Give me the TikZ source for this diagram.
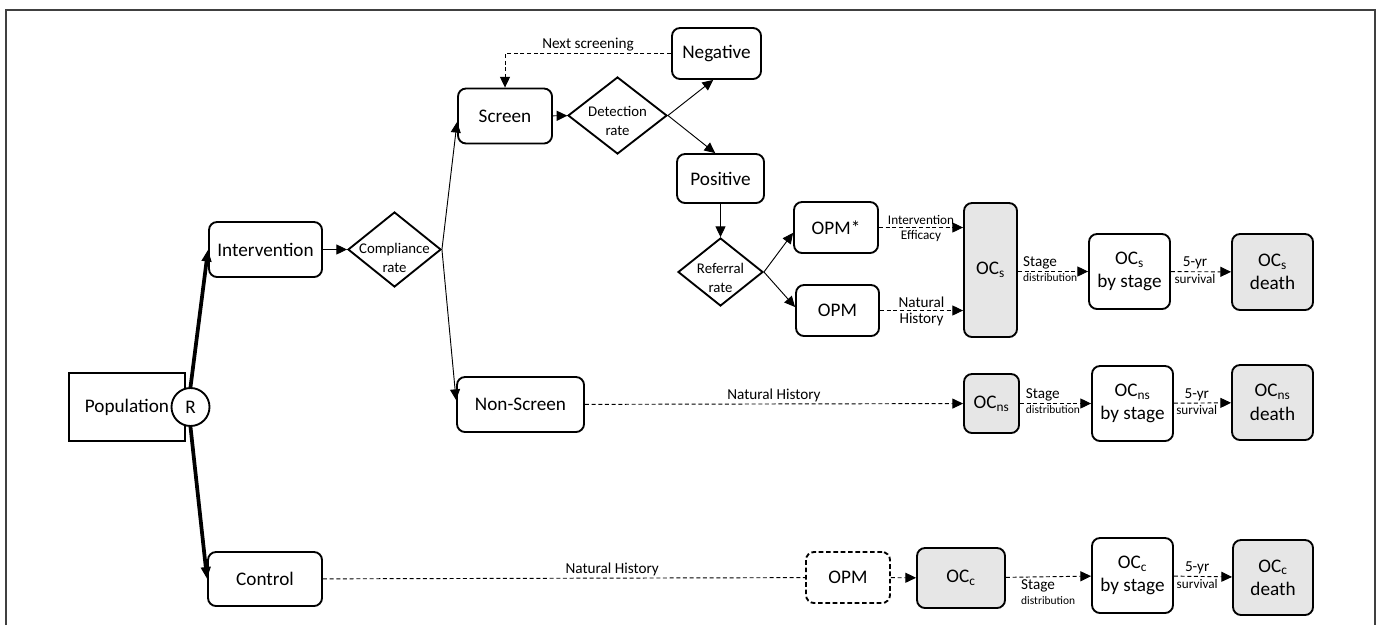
\documentclass[tikz,border=0pt]{standalone}
\usepackage{fontspec}
\setmainfont{Carlito}
\usetikzlibrary{arrows.meta,shapes.geometric}
\definecolor{boxgray}{RGB}{230,230,230}
\newcommand\fmain{\fontsize{14.4}{17.5}\selectfont}
\newcommand\fdia{\fontsize{11.1}{14}\selectfont}
\newcommand\flab{\fontsize{11.4}{13}\selectfont}
\newcommand\fsm{\fontsize{9.9}{11}\selectfont}
\newcommand\ftny{\fontsize{8.6}{10}\selectfont}
\tikzset{
  box/.style={draw, line width=1.4pt, rounded corners=6pt, fill=white, align=center, font=\fmain, inner sep=0pt},
  gbox/.style={box, fill=boxgray},
  dia/.style={draw, shape=diamond, line width=1.4pt, inner sep=0pt, fill=white},
  diatext/.style={font=\fdia, align=center, inner sep=0pt},
  arr/.style={-{Triangle[length=8pt,width=7.5pt]}, line width=0.7pt},
  darr/.style={arr, dash pattern=on 3pt off 2pt},
  dline/.style={line width=0.7pt, dash pattern=on 3pt off 2pt},
  thk/.style={-{Triangle[length=9pt,width=7pt]}, line width=2.8pt},
  lab/.style={font=\flab, inner sep=1.5pt},
  sml/.style={font=\fsm, inner sep=1.5pt},
  tny/.style={font=\ftny, inner sep=1.5pt},
}
\begin{document}
\begin{tikzpicture}[x=0.75pt,y=-0.75pt]
\useasboundingbox (0,0) rectangle (1381,625);
\draw[line width=1.2pt, draw=black!75] (6,625) -- (6,10) -- (1375,10) -- (1375,625);

% left part
\node[box, sharp corners, minimum width=87pt, minimum height=51pt] (pop) at (127,407) {Population};
\node[draw, circle, line width=1.4pt, fill=white, minimum size=28.5pt, inner sep=0pt, font=\fmain] (R) at (190.5,407) {R};
\node[box, minimum width=84.75pt, minimum height=41.25pt] (intv) at (265.5,249.5) {Intervention};
\node[box, minimum width=85.5pt, minimum height=40.5pt] (ctrl) at (265,579) {Control};
\node[dia, minimum width=69.75pt, minimum height=56.25pt] (comp) at (394.5,249.5) {};
\node[diatext] (compt) at (394.5,258) {Compliance\\rate};

% screening branch
\node[box, minimum width=70.5pt, minimum height=41.25pt] (scr) at (505,116) {Screen};
\node[dia, minimum width=74.25pt, minimum height=57.75pt] (det) at (617.5,115.5) {};
\node[diatext] (dett) at (617.5,121) {Detection\\rate};
\node[box, minimum width=66.75pt, minimum height=38.25pt] (neg) at (716.5,53.5) {Negative};
\node[box, minimum width=65.25pt, minimum height=36.75pt] (pos) at (720.5,178.5) {Positive};
\node[dia, minimum width=63.75pt, minimum height=51pt] (ref) at (720.5,272) {};
\node[diatext] (reft) at (720.5,278) {Referral\\rate};
\node[box, minimum width=63pt, minimum height=38.25pt] (opms) at (836,227.5) {OPM*};
\node[box, minimum width=62.25pt, minimum height=38.25pt] (opm) at (837.5,310.5) {OPM};
\node[box, minimum width=95.25pt, minimum height=41.25pt] (nonscr) at (520.5,404.5) {Non-Screen};

% outcome boxes
\node[gbox, minimum width=39.75pt, minimum height=100.5pt] (ocs) at (990.5,270) {OC\textsubscript{s}};
\node[box, minimum width=60.75pt, minimum height=56.25pt] (ocsb) at (1129.5,271.5) {OC\textsubscript{s}\\by stage};
\node[gbox, minimum width=60.75pt, minimum height=57pt] (ocsd) at (1272.5,272) {OC\textsubscript{s}\\death};
\node[gbox, minimum width=41.25pt, minimum height=44.25pt] (ocns) at (991.5,403.5) {OC\textsubscript{ns}};
\node[box, minimum width=60.75pt, minimum height=56.25pt] (ocnsb) at (1132.5,403.5) {OC\textsubscript{ns}\\by stage};
\node[gbox, minimum width=60.75pt, minimum height=56.25pt] (ocnsd) at (1272.5,402.5) {OC\textsubscript{ns}\\death};
\node[box, dash pattern=on 3.5pt off 2pt, minimum width=63pt, minimum height=38.25pt] (opmc) at (848,577.5) {OPM};
\node[gbox, minimum width=66pt, minimum height=45pt] (occ) at (961,578) {OC\textsubscript{c}};
\node[box, minimum width=60.75pt, minimum height=56.25pt] (occb) at (1132.5,575.5) {OC\textsubscript{c}\\by stage};
\node[gbox, minimum width=60pt, minimum height=56.25pt] (occd) at (1273,577.5) {OC\textsubscript{c}\\death};

% solid connectors
\draw[thk] (R.north) -- (intv.west);
\draw[thk] (R.south) -- (ctrl.west);
\draw[arr] (intv) -- (comp);
\draw[arr] (comp.east) -- ([yshift=-4.5pt]scr.west);
\draw[arr] (comp.east) -- ([yshift=3.4pt]nonscr.west);
\draw[arr] (scr) -- (det);
\draw[arr] (det.east) -- ([xshift=-2.5pt]neg.south);
\draw[arr] (det.east) -- ([xshift=-4pt]pos.north);
\draw[arr] (pos) -- (ref);
\draw[arr] (ref.east) -- ([yshift=-4pt]opms.west);
\draw[arr] (ref.east) -- ([yshift=2.6pt]opm.west);

% dashed connectors
\draw[darr] (neg.west) -| node[pos=0.25, above, lab] (nxt) {Next screening} (scr.north);
\draw[darr] (opms.east) -- node[above, sml] (ie1) {Intervention} node[below, sml] (ie2) {Efficacy} (opms.east -| ocs.west);
\draw[darr] (opm.east) -- node[above, lab] (nh1) {Natural} node[below, lab] (nh2) {History} (opm.east -| ocs.west);
\draw[darr] (ocsb.west -| ocs.east) -- node[pos=0.04, anchor=south west, lab] (sd1) {Stage} node[pos=0.04, anchor=north west, tny] (sd2) {distribution} (ocsb.west);
\draw[darr] (ocsb) -- node[pos=0.4, above, lab] (sv1) {5-yr} node[pos=0.4, below, sml] (sv2) {survival} (ocsd);

\draw[darr] (nonscr) -- node[above, lab] (nh3) {Natural History} (ocns);
\draw[darr] (ocns) -- node[pos=0.05, anchor=south west, lab] (sd3) {Stage} node[pos=0.05, anchor=north west, tny] (sd4) {distribution} (ocnsb);
\draw[darr] (ocnsb) -- node[pos=0.4, above, lab] (sv3) {5-yr} node[pos=0.4, below, sml] (sv4) {survival} (ocnsd);

\draw[dline] (ctrl) -- node[pos=0.6, above, lab] (nh4) {Natural History} (opmc);
\draw[darr] (opmc) -- (occ);
\draw[darr] (occ) -- node[pos=0.15, anchor=north west, align=left, inner sep=1.5pt] (sd5) {{\flab Stage}\\[-1pt]{\ftny distribution}} (occb);
\draw[darr] (occb) -- node[pos=0.4, above, lab] (sv5) {5-yr} node[pos=0.4, below, sml] (sv6) {survival} (occd);
\end{tikzpicture}
\end{document}
